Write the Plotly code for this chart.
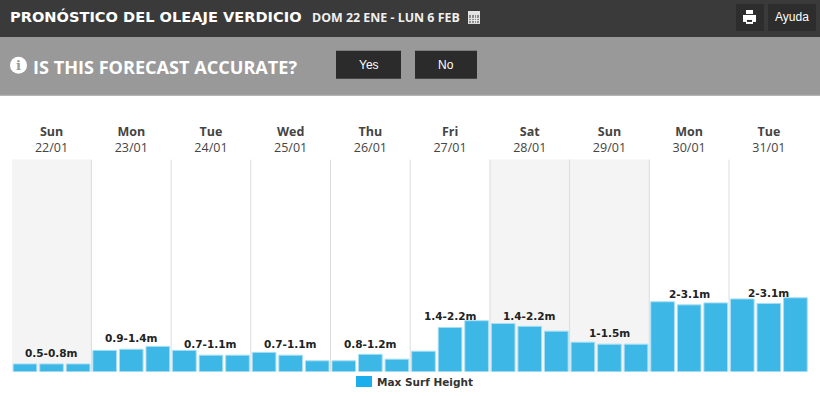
import plotly.graph_objects as go

days = ["Sun", "Mon", "Tue", "Wed", "Thu", "Fri", "Sat", "Sun", "Mon", "Tue"]
dates = ["22/01", "23/01", "24/01", "25/01", "26/01", "27/01", "28/01", "29/01", "30/01", "31/01"]
max_surf = [0.77, 0.77, 0.77, 1.25, 1.29, 1.39, 1.25, 1.08, 1.08, 1.18, 1.08, 0.88, 0.88, 1.11, 0.94,
            1.22, 2.06, 2.30, 2.20, 2.10, 1.93, 1.54, 1.47, 1.47, 2.97, 2.86, 2.93, 3.07, 2.91, 3.11]
range_labels = ["0.5-0.8m", "0.9-1.4m", "0.7-1.1m", "0.7-1.1m", "0.8-1.2m",
                "1.4-2.2m", "1.4-2.2m", "1-1.5m", "2-3.1m", "2-3.1m"]
label_heights = [1.14, 1.67, 1.46, 1.46, 1.49, 2.45, 2.48, 1.88, 3.26, 3.29]
shaded_days = [0, 6, 7]

W, H = 820, 396
px = lambda v: v / W
py = lambda v: 1 - v / H
BLUE = "#3db7e6"


def rect(x0, y0, x1, y1, color):
    return dict(type="rect", xref="paper", yref="paper", x0=px(x0), x1=px(x1), y0=py(y0), y1=py(y1),
                fillcolor=color, line=dict(width=0), layer="below")


def txt(x, y, s, size, color, font="Open Sans", anchor="left"):
    return dict(xref="paper", yref="paper", x=px(x), y=py(y), text=s, showarrow=False,
                xanchor=anchor, yanchor="middle", font=dict(family=font, size=size, color=color))


slots = 3
bars = go.Bar(x=list(range(len(max_surf))), y=max_surf, base=0, name="Max Surf Height",
              marker=dict(color=BLUE, line=dict(width=1, color="#a8def3")), showlegend=True)

shapes = [
    rect(0, 0, 820, 37, "#3a3a3a"),
    rect(0, 37, 820, 96, "#999999"),
    rect(0, 95, 820, 96, "#b5b5b5"),
    rect(336, 51, 401, 79, "#2b2b2b"),
    rect(415, 51, 477, 79, "#2b2b2b"),
    rect(736, 4, 764, 31, "#2d2d2d"),
    rect(768, 4, 816, 31, "#2d2d2d"),
    # printer icon
    rect(746, 10, 753, 14, "#ffffff"),
    rect(743, 15, 756, 22, "#ffffff"),
    rect(746, 20, 753, 24, "#ffffff"),
    rect(747, 20, 752, 22, "#2d2d2d"),
    # calendar icon
    rect(468, 11, 480, 24, "#e4e4e4"),
    rect(469, 15, 479, 23, "#8a8a8a"),
    rect(471, 15, 472, 23, "#e4e4e4"),
    rect(474, 15, 475, 23, "#e4e4e4"),
    rect(476, 15, 477, 23, "#e4e4e4"),
    rect(469, 18, 479, 19, "#e4e4e4"),
    rect(469, 20, 479, 21, "#e4e4e4"),
    # info disc
    dict(type="circle", xref="paper", yref="paper", x0=px(10), x1=px(27), y0=py(57), y1=py(74),
         fillcolor="#ffffff", line=dict(width=0), layer="below"),
]
for d in shaded_days:
    shapes.append(dict(type="rect", xref="x", yref="y domain", x0=d * slots - 0.5, x1=(d + 1) * slots - 0.5,
                       y0=0, y1=1, fillcolor="#f4f4f4", line=dict(width=0), layer="below"))
for d in range(1, len(days)):
    shapes.append(dict(type="line", xref="x", yref="y domain", x0=d * slots - 0.5, x1=d * slots - 0.5,
                       y0=0, y1=1, line=dict(width=1, color="#dcdcdc"), layer="below"))

annotations = [
    txt(8, 17, "<b>PRONÓSTICO DEL OLEAJE VERDICIO</b>", 14.6, "#ffffff", "DejaVu Sans"),
    txt(310, 17.5, "<b>DOM 22 ENE - LUN 6 FEB</b>", 12.4, "#f0f0f0", "Open Sans"),
    txt(31, 67, "<b>IS THIS FORECAST ACCURATE?</b>", 18.1, "#ffffff", "Open Sans"),
    txt(18.5, 65.5, "<b>i</b>", 13, "#999999", "DejaVu Serif", "center"),
    txt(368.5, 65, "Yes", 12, "#ffffff", "Liberation Sans", "center"),
    txt(446, 65, "No", 12, "#ffffff", "Liberation Sans", "center"),
    txt(792, 17, "Ayuda", 12, "#ffffff", "Liberation Sans", "center"),
]
for d, (label, h) in enumerate(zip(range_labels, label_heights)):
    annotations.append(dict(x=d * slots + 1, y=h, xref="x", yref="y", text=f"<b>{label}</b>", showarrow=False,
                            xanchor="center", yanchor="middle",
                            font=dict(family="DejaVu Sans", size=10.5, color="#222222")))

fig = go.Figure(bars)
fig.update_layout(
    width=W, height=H, margin=dict(l=0, r=0, t=0, b=0), autosize=False,
    paper_bgcolor="#ffffff", plot_bgcolor="#ffffff", bargap=0.11,
    shapes=shapes, annotations=annotations,
    legend=dict(orientation="h", x=px(337), xanchor="left", y=py(382), yanchor="middle",
                font=dict(family="DejaVu Sans", size=10.5, color="#333333", weight="bold"),
                bgcolor="rgba(0,0,0,0)"),
    xaxis=dict(domain=[px(11.7), px(808.7)], range=[-0.5, len(max_surf) - 0.5], side="top",
               tickvals=[d * slots + 1 for d in range(len(days))],
               ticktext=[f"<b>{a}</b><br>{b}" for a, b in zip(days, dates)],
               tickfont=dict(family="Open Sans", size=12.5, color="#444444"),
               ticklabelstandoff=4,
               ticks="", showgrid=False, zeroline=False, showline=False),
    yaxis=dict(domain=[py(372.5), py(160)], range=[0.5, 8], visible=False, showgrid=False),
)
post = """
document.body.style.margin='0';document.body.style.overflow='hidden';
document.querySelectorAll('.legend .legendpoints path').forEach(function(p){
  p.setAttribute('transform','translate(27,0) scale(1.33,0.92)');
  p.style.fill='#1aaeed';p.style.stroke='none';
});
"""
fig.write_html("out.html", post_script=post, config=dict(displayModeBar=False))
